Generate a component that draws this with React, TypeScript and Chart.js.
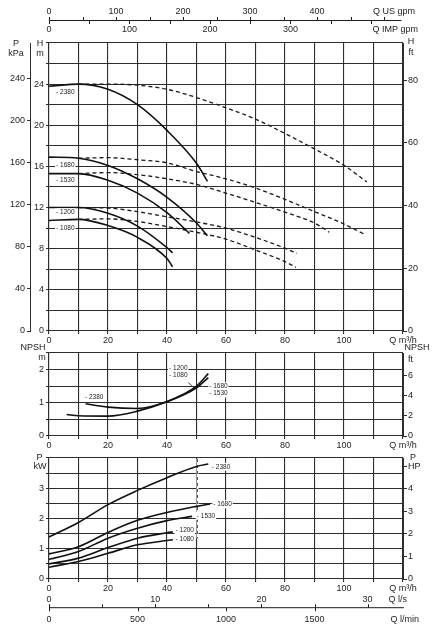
import React, { useEffect, useRef } from "react";
import { Chart, registerables } from "chart.js";
Chart.register(...registerables);

const FONT = '"Liberation Sans", Arial, Helvetica, sans-serif';
const INK = "#1e1e1e";
const GRID = "#2e2e2e";
Chart.defaults.font.family = FONT;
Chart.defaults.font.size = 9;
Chart.defaults.color = INK;

// ---------- Head curves H [m] vs Q [m³/h]
const qH2380 = [0, 10, 20, 30, 40, 50, 53.7];
const hH2380 = [23.8, 24.0, 23.5, 22.0, 19.5, 16.3, 14.55];
const qH2380d = [10, 20, 30, 40, 50, 60, 70, 80, 90, 100, 107.7];
const hH2380d = [24.0, 24.0, 23.9, 23.5, 22.7, 21.7, 20.6, 19.2, 17.7, 16.1, 14.5];
const qH1680 = [0, 10, 20, 30, 40, 50, 53.7];
const hH1680 = [16.9, 16.8, 16.1, 14.8, 13.0, 10.5, 9.25];
const qH1680d = [10, 20, 30, 40, 50, 60, 70, 80, 90, 100, 107.3];
const hH1680d = [16.8, 16.85, 16.65, 16.35, 15.5, 14.8, 13.9, 12.8, 11.6, 10.4, 9.35];
const qH1530 = [0, 10, 20, 30, 40, 47.6];
const hH1530 = [15.3, 15.3, 14.65, 13.4, 11.5, 9.5];
const qH1530d = [10, 20, 30, 40, 50, 60, 70, 80, 90, 95];
const hH1530d = [15.3, 15.4, 15.2, 14.8, 14.25, 13.4, 12.5, 11.55, 10.5, 9.6];
const qH1200 = [0, 10, 20, 30, 40, 41.9];
const hH1200 = [12.0, 12.0, 11.45, 10.2, 8.1, 7.6];
const qH1200d = [10, 20, 30, 40, 50, 60, 70, 80, 84];
const hH1200d = [12.0, 11.95, 11.6, 11.1, 10.6, 10.0, 9.1, 8.05, 7.55];
const qH1080 = [0, 10, 20, 30, 40, 41.9];
const hH1080 = [10.75, 10.85, 10.25, 9.1, 7.05, 6.25];
const qH1080d = [10, 20, 30, 40, 50, 60, 70, 80, 83.7];
const hH1080d = [10.85, 10.9, 10.65, 10.15, 9.6, 8.93, 7.88, 6.74, 6.19];

// ---------- NPSH [m]
const qN2380 = [12.4, 20, 30, 40, 50, 54];
const nN2380 = [0.97, 0.87, 0.83, 1.04, 1.5, 1.88];
const qNother = [6, 10, 20, 30, 40, 50, 54];
const nNother = [0.65, 0.61, 0.6, 0.75, 1.03, 1.45, 1.76];

// ---------- Power P [kW]
const qP2380 = [0, 10, 20, 30, 40, 50, 54];
const pP2380 = [1.39, 1.87, 2.46, 2.93, 3.35, 3.72, 3.8];
const qP1680 = [0, 10, 20, 30, 40, 50, 54.6];
const pP1680 = [0.83, 1.07, 1.54, 1.94, 2.2, 2.4, 2.48];
const qP1530 = [0, 10, 20, 30, 40, 48.5];
const pP1530 = [0.65, 0.91, 1.35, 1.68, 1.93, 2.07];
const qP1200 = [0, 10, 20, 30, 40, 42];
const pP1200 = [0.5, 0.69, 1.04, 1.35, 1.53, 1.56];
const qP1080 = [0, 10, 20, 30, 40, 42];
const pP1080 = [0.39, 0.58, 0.85, 1.13, 1.27, 1.3];

// ---------- labels / secondary axes
const speedNames = ["2380", "1680", "1530", "1200", "1080"];
const usGpmTicks = [0, 100, 200, 300, 400];
const impGpmTicks = [0, 100, 200, 300];
const lsTicks = [0, 10, 20, 30];
const lminTicks = [0, 500, 1000, 1500];
const US_PER_M3H = 4.4029;
const IMP_PER_M3H = 3.6662;
const LS_PER_M3H = 1 / 3.6;
const LMIN_PER_M3H = 1000 / 60;

// anchors of the curve tags (data coordinates)
const topTagQ = [2.4, 2.4, 2.4, 2.4, 2.4];
const topTagH = [23.26, 16.13, 14.67, 11.54, 10.0];
const npshTag = { "2380": [12.2, 1.16], "1200": [40.7, 2.05], "1080": [40.7, 1.82], "1680": [54.3, 1.5], "1530": [54.3, 1.28] } as Record<string, number[]>;
const powTagQ = [55.2, 55.7, 50.1, 42.9, 42.9];
const powTagP = [3.71, 2.47, 2.09, 1.61, 1.32];

const pts = (q: number[], v: number[]) => q.map((x, i) => ({ x, y: v[i] }));
const curve = (q: number[], v: number[], dashed = false) => ({
  data: pts(q, v),
  borderColor: dashed ? "#1a1a1a" : "#111",
  borderWidth: dashed ? 1.3 : 1.6,
  borderDash: dashed ? [4, 3] : [],
  pointRadius: 0,
  cubicInterpolationMode: "monotone",
  fill: false,
});

const isInt = (v: number) => Math.abs(v - Math.round(v)) < 1e-6;

function xScale(height: number) {
  return {
    type: "linear",
    position: "bottom",
    min: 0,
    max: 120,
    afterFit: (s: any) => { s.height = height; },
    ticks: {
      stepSize: 10,
      autoSkip: false,
      maxRotation: 0,
      padding: 1,
      callback: (v: number) => (v === 120 ? "Q m³/h" : isInt(v / 20) ? String(v) : ""),
    },
    grid: { color: GRID, lineWidth: 1.1, tickLength: 3 },
    border: { display: true, color: GRID, width: 1.1 },
  };
}

function text(ctx: CanvasRenderingContext2D, s: string, x: number, y: number, align: CanvasTextAlign = "center", size = 9) {
  ctx.save();
  ctx.font = `${size}px ${FONT}`;
  ctx.fillStyle = INK;
  ctx.textAlign = align;
  ctx.textBaseline = "middle";
  ctx.fillText(s, x, y);
  ctx.restore();
}

function tag(chart: any, q: number, v: number, name: string) {
  const ctx = chart.ctx as CanvasRenderingContext2D;
  const x = chart.scales.x.getPixelForValue(q);
  const y = chart.scales.y.getPixelForValue(v);
  const s = "- " + name;
  ctx.save();
  ctx.font = `6.5px ${FONT}`;
  const w = ctx.measureText(s).width;
  ctx.fillStyle = "#fff";
  ctx.fillRect(x - 1, y - 4, w + 2, 8);
  ctx.restore();
  text(ctx, s, x, y, "left", 6.5);
}

function baseOptions(padTop: number) {
  return {
    responsive: true,
    maintainAspectRatio: false,
    animation: false,
    events: [],
    layout: { padding: { top: padTop, left: 0, right: 0, bottom: 0 } },
    plugins: { legend: { display: false }, tooltip: { enabled: false } },
  };
}

function headConfig() {
  const datasets = [
    curve(qH2380, hH2380), curve(qH2380d, hH2380d, true),
    curve(qH1680, hH1680), curve(qH1680d, hH1680d, true),
    curve(qH1530, hH1530), curve(qH1530d, hH1530d, true),
    curve(qH1200, hH1200), curve(qH1200d, hH1200d, true),
    curve(qH1080, hH1080), curve(qH1080d, hH1080d, true),
  ];
  return {
    type: "line",
    data: { datasets },
    options: {
      ...baseOptions(43),
      scales: {
        x: xScale(19),
        y: {
          type: "linear", position: "left", weight: 0, min: 0, max: 28,
          afterFit: (s: any) => { s.width = 19; },
          ticks: { stepSize: 2, autoSkip: false, padding: 2, callback: (v: number) => (isInt(v / 4) && v < 28 ? String(v) : "") },
          grid: { color: GRID, lineWidth: 1.1, tickLength: 3 },
          border: { display: true, color: GRID, width: 1.1 },
        },
        kpa: {
          type: "linear", position: "left", weight: 1, min: 0, max: 28 * 9.79,
          afterFit: (s: any) => { s.width = 30; },
          ticks: { stepSize: 40, includeBounds: false, autoSkip: false, padding: 2 },
          grid: { drawOnChartArea: false, color: GRID, tickLength: 3 },
          border: { display: true, color: GRID },
        },
        ft: {
          type: "linear", position: "right", min: 0, max: 28 * 3.28084,
          afterFit: (s: any) => { s.width = 36; },
          ticks: { stepSize: 20, includeBounds: false, autoSkip: false, padding: 1 },
          grid: { drawOnChartArea: false, color: GRID, tickLength: 4 },
          border: { display: true, color: GRID },
        },
      },
    },
    plugins: [{
      id: "headExtras",
      afterDraw(chart: any) {
        const ctx = chart.ctx as CanvasRenderingContext2D;
        const ca = chart.chartArea;
        const xs = chart.scales.x;
        // titles
        text(ctx, "P", ca.left - 33, ca.top + 0.5);
        text(ctx, "kPa", ca.left - 33, ca.top + 11);
        text(ctx, "H", ca.left - 9, ca.top + 0.5);
        text(ctx, "m", ca.left - 9, ca.top + 10.5);
        text(ctx, "H", ca.right + 8, ca.top - 1);
        text(ctx, "ft", ca.right + 8, ca.top + 10);
        // tags
        speedNames.forEach((n, i) => tag(chart, topTagQ[i], topTagH[i], n));
        // top gpm axes
        const yLine = 20.5;
        ctx.save();
        ctx.strokeStyle = INK;
        ctx.lineWidth = 1;
        ctx.beginPath();
        ctx.moveTo(xs.getPixelForValue(0), yLine);
        ctx.lineTo(xs.getPixelForValue(119.5), yLine);
        for (let g = 0; g <= 500; g += 50) {
          const px = Math.round(xs.getPixelForValue(g / US_PER_M3H)) + 0.5;
          ctx.moveTo(px, yLine - 3.5);
          ctx.lineTo(px, yLine + (g === 0 ? 3.5 : 0));
        }
        for (let g = 50; g <= 400; g += 50) {
          const px = Math.round(xs.getPixelForValue(g / IMP_PER_M3H)) + 0.5;
          ctx.moveTo(px, yLine);
          ctx.lineTo(px, yLine + 3.5);
        }
        ctx.stroke();
        ctx.restore();
        usGpmTicks.forEach((g) => text(ctx, String(g), xs.getPixelForValue(g / US_PER_M3H), 12));
        impGpmTicks.forEach((g) => text(ctx, String(g), xs.getPixelForValue(g / IMP_PER_M3H), 29.5));
        text(ctx, "Q US gpm", ca.right + 12, 12, "right");
        text(ctx, "Q IMP gpm", ca.right + 15, 29.5, "right");
      },
    }],
  };
}

function npshConfig() {
  const datasets = [curve(qN2380, nN2380), curve(qNother, nNother)];
  return {
    type: "line",
    data: { datasets },
    options: {
      ...baseOptions(13),
      scales: {
        x: xScale(16),
        y: {
          type: "linear", position: "left", min: 0, max: 2.5,
          afterFit: (s: any) => { s.width = 49; },
          ticks: { stepSize: 0.5, autoSkip: false, padding: 2, callback: (v: number) => (isInt(v) && v < 2.5 ? String(Math.round(v)) : "") },
          grid: { color: GRID, lineWidth: 1.1, tickLength: 3 },
          border: { display: true, color: GRID, width: 1.1 },
        },
        ft: {
          type: "linear", position: "right", min: 0, max: 2.5 * 3.28084,
          afterFit: (s: any) => { s.width = 36; },
          ticks: { stepSize: 2, includeBounds: false, autoSkip: false, padding: 1, callback: (v: number) => (v <= 6 ? String(v) : "") },
          grid: {
            drawOnChartArea: false, color: GRID, tickLength: 4,
            tickColor: (c: any) => (c.tick && c.tick.value > 6 ? "rgba(0,0,0,0)" : GRID),
          },
          border: { display: true, color: GRID },
        },
      },
    },
    plugins: [{
      id: "npshExtras",
      afterDraw(chart: any) {
        const ctx = chart.ctx as CanvasRenderingContext2D;
        const ca = chart.chartArea;
        const xs = chart.scales.x, ys = chart.scales.y;
        text(ctx, "NPSH", ca.left - 16, ca.top - 5);
        text(ctx, "m", ca.left - 7, ca.top + 5);
        text(ctx, "NPSH", ca.right + 14, ca.top - 5);
        text(ctx, "ft", ca.right + 7.5, ca.top + 6.5);
        ctx.save();
        ctx.strokeStyle = INK;
        ctx.lineWidth = 0.8;
        ctx.beginPath();
        ctx.moveTo(xs.getPixelForValue(47.2), ys.getPixelForValue(1.61));
        ctx.lineTo(xs.getPixelForValue(49.2), ys.getPixelForValue(1.45));
        ctx.stroke();
        ctx.restore();
        speedNames.forEach((n) => tag(chart, npshTag[n][0], npshTag[n][1], n));
      },
    }],
  };
}

function powerConfig() {
  const datasets = [
    curve(qP2380, pP2380), curve(qP1680, pP1680), curve(qP1530, pP1530),
    curve(qP1200, pP1200), curve(qP1080, pP1080),
  ];
  return {
    type: "line",
    data: { datasets },
    options: {
      ...baseOptions(8),
      scales: {
        x: xScale(56),
        y: {
          type: "linear", position: "left", min: 0, max: 4,
          afterFit: (s: any) => { s.width = 49; },
          ticks: { stepSize: 0.5, autoSkip: false, padding: 2, callback: (v: number) => (isInt(v) && v < 4 ? String(Math.round(v)) : "") },
          grid: { color: GRID, lineWidth: 1.1, tickLength: 3 },
          border: { display: true, color: GRID, width: 1.1 },
        },
        hp: {
          type: "linear", position: "right", min: 0, max: 4 * 1.34102,
          afterFit: (s: any) => { s.width = 36; },
          ticks: { stepSize: 1, includeBounds: false, autoSkip: false, padding: 1, callback: (v: number) => (v === 5 ? "HP" : String(v)) },
          grid: { drawOnChartArea: false, color: GRID, tickLength: 4 },
          border: { display: true, color: GRID },
        },
      },
    },
    plugins: [{
      id: "powerExtras",
      beforeDatasetsDraw(chart: any) {
        const ctx = chart.ctx as CanvasRenderingContext2D;
        const ca = chart.chartArea;
        const xs = chart.scales.x, ys = chart.scales.y;
        const x50 = Math.round(xs.getPixelForValue(50)) + 0.5;
        const yb = ys.getPixelForValue(1.35);
        ctx.save();
        ctx.strokeStyle = "#fff";
        ctx.lineWidth = 2;
        ctx.beginPath();
        ctx.moveTo(x50, ca.top + 1);
        ctx.lineTo(x50, yb);
        ctx.stroke();
        ctx.setLineDash([3, 3]);
        ctx.strokeStyle = "#555";
        ctx.lineWidth = 1;
        ctx.beginPath();
        ctx.moveTo(x50, ca.top + 1);
        ctx.lineTo(x50, yb);
        ctx.stroke();
        ctx.restore();
      },
      afterDraw(chart: any) {
        const ctx = chart.ctx as CanvasRenderingContext2D;
        const ca = chart.chartArea;
        const xs = chart.scales.x;
        text(ctx, "P", ca.left - 9.5, ca.top);
        text(ctx, "kW", ca.left - 9, ca.top + 8.5);
        text(ctx, "P", ca.right + 10, ca.top);
        speedNames.forEach((n, i) => tag(chart, powTagQ[i], powTagP[i], n));
        // l/s and l/min axes
        const yLine = ca.bottom + 28.7;
        ctx.save();
        ctx.strokeStyle = INK;
        ctx.lineWidth = 1;
        ctx.beginPath();
        ctx.moveTo(xs.getPixelForValue(0), yLine);
        ctx.lineTo(xs.getPixelForValue(120.3), yLine);
        for (let l = 0; l <= 30; l += 5) {
          const px = Math.round(xs.getPixelForValue(l / LS_PER_M3H)) + 0.5;
          ctx.moveTo(px, yLine - 3.5);
          ctx.lineTo(px, yLine + (l === 0 ? 3.5 : 0));
        }
        for (let l = 500; l <= 1500; l += 500) {
          const px = Math.round(xs.getPixelForValue(l / LMIN_PER_M3H)) + 0.5;
          ctx.moveTo(px, yLine);
          ctx.lineTo(px, yLine + 3.5);
        }
        ctx.stroke();
        ctx.restore();
        lsTicks.forEach((l) => text(ctx, String(l), xs.getPixelForValue(l / LS_PER_M3H), yLine - 8));
        lminTicks.forEach((l) => text(ctx, String(l), xs.getPixelForValue(l / LMIN_PER_M3H), yLine + 12));
        text(ctx, "Q l/s", ca.right + 4, yLine - 8, "right");
        text(ctx, "Q l/min", ca.right + 16, yLine + 12, "right");
      },
    }],
  };
}

function Panel({ top, height, make }: { top: number; height: number; make: () => any }) {
  const ref = useRef<HTMLCanvasElement>(null);
  useEffect(() => {
    const chart = new Chart(ref.current as HTMLCanvasElement, make());
    return () => chart.destroy();
  }, []);
  return (
    <div style={{ position: "absolute", left: 0, top, width: 439, height }}>
      <canvas ref={ref} />
    </div>
  );
}

export default function App() {
  return (
    <div style={{ position: "fixed", left: 0, top: 0, width: 439, height: 635, background: "#fff", overflow: "hidden" }}>
      <Panel top={0} height={350} make={headConfig} />
      <Panel top={340} height={112} make={npshConfig} />
      <Panel top={450} height={185} make={powerConfig} />
    </div>
  );
}
